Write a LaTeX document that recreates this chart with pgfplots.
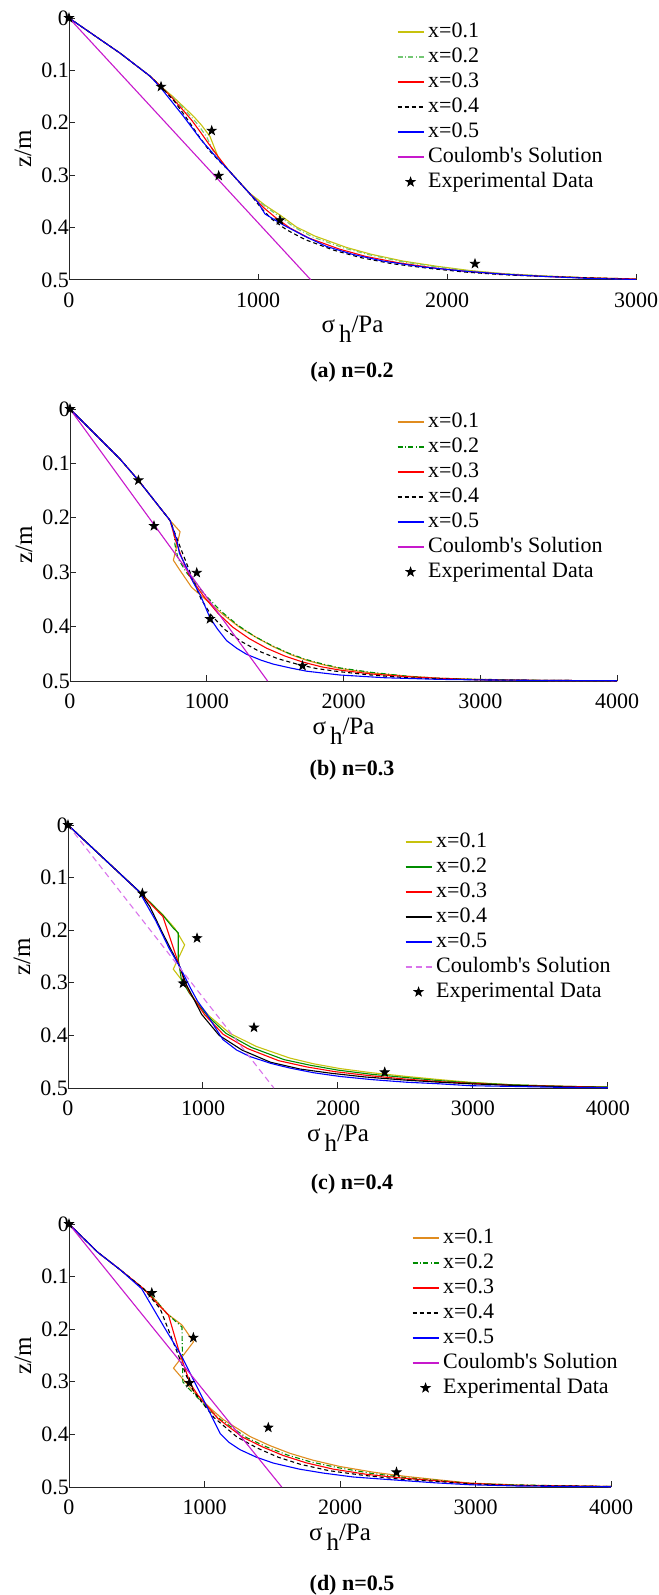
\documentclass[border=0pt]{standalone}
\usepackage{fontspec}
\setmainfont{Liberation Serif}
\usepackage{pgfplots}
\pgfplotsset{compat=1.18}

\pgfdeclareplotmark{pstar}{%
  \pgfpathmoveto{\pgfpointpolar{90}{\pgfplotmarksize}}%
  \pgfpathlineto{\pgfpointpolar{126}{0.4\pgfplotmarksize}}%
  \pgfpathlineto{\pgfpointpolar{162}{\pgfplotmarksize}}%
  \pgfpathlineto{\pgfpointpolar{198}{0.4\pgfplotmarksize}}%
  \pgfpathlineto{\pgfpointpolar{234}{\pgfplotmarksize}}%
  \pgfpathlineto{\pgfpointpolar{270}{0.4\pgfplotmarksize}}%
  \pgfpathlineto{\pgfpointpolar{306}{\pgfplotmarksize}}%
  \pgfpathlineto{\pgfpointpolar{342}{0.4\pgfplotmarksize}}%
  \pgfpathlineto{\pgfpointpolar{18}{\pgfplotmarksize}}%
  \pgfpathlineto{\pgfpointpolar{54}{0.4\pgfplotmarksize}}%
  \pgfpathclose
  \pgfusepathqfillstroke}

\definecolor{cyel}{rgb}{0.78,0.76,0.05}
\definecolor{clgreen}{rgb}{0.45,0.78,0.45}
\definecolor{cgreen}{rgb}{0.0,0.55,0.0}
\definecolor{corange}{rgb}{0.88,0.55,0.12}
\definecolor{cmag}{rgb}{0.78,0.1,0.8}
\definecolor{cviol}{rgb}{0.85,0.45,0.92}
\definecolor{caxis}{rgb}{0.15,0.15,0.15}

\tikzset{
  dashdot/.style={dash pattern=on 2.5bp off 1.2bp on 0.5bp off 1.2bp},
  dsh/.style={dash pattern=on 2bp off 1.5bp},
}

\pgfplotsset{
  panel/.style={
    scale only axis,
    axis x line*=bottom, axis y line*=left,
    axis line style={caxis, line width=0.5bp, -},
    y dir=reverse,
    ymin=0, ymax=0.5, ytick={0,0.1,0.2,0.3,0.4,0.5},
    yticklabels={0,0.1,0.2,0.3,0.4,0.5},
    xmin=0,
    tick align=inside,
    major tick length=3bp,
    tick style={caxis, line width=0.5bp},
    ticklabel style={font=\fontsize{11bp}{13bp}\selectfont, text=black},
    yticklabel style={xshift=3.5bp},
    xticklabel style={yshift=-3bp},
    label style={font=\fontsize{12.5bp}{14bp}\selectfont},
    ylabel={z/m},
    xlabel={σ\hspace{2bp}\raisebox{-5bp}{h}/Pa},
    ylabel style={at={(axis description cs:0,0.5)}, anchor=center, yshift=23bp},
    xlabel style={at={(axis description cs:0.5,0)}, anchor=base, yshift=-26.5bp},
    every axis plot/.append style={line width=0.55bp},
    legend cell align=left,
    legend style={draw=none, fill=none, inner sep=0pt, outer sep=0pt, row sep=0pt, column sep=2bp,
      font=\fontsize{11bp}{13bp}\selectfont,
      nodes={inner sep=0pt, text height=8.75bp, text depth=3.75bp}, anchor=north west},
    legend image code/.code={\draw[##1] (0bp,0bp) -- (13bp,0bp);},
  },
  expstyle/.style={only marks, mark=pstar, mark size=2.3bp, black, line width=0.4bp,
    legend image code/.code={\draw[mark repeat=2,mark phase=2,##1] plot coordinates {(0bp,0bp)(6.5bp,0bp)(13bp,0bp)};}},
}

\begin{document}
\begin{tikzpicture}
\path[use as bounding box] (0,0) rectangle (329.5bp,-797.5bp);

% ---------------- (a) n=0.2 ----------------
\begin{axis}[panel, at={(34.5bp,-9bp)}, anchor=north west, width=283.5bp, height=131bp,
  xmax=3000, xtick={0,1000,2000,3000}, xticklabels={0,1000,2000,3000},
  legend style={at={(axis description cs:0,1)}, xshift=164bp, yshift=-0.75bp}]
\addplot[cyel] coordinates {(0,0)(270,0.067)(429,0.111)(487,0.131)(550,0.150)(605,0.169)(660,0.188)(700,0.204)(746,0.226)(772,0.250)(790,0.266)(843,0.290)(958,0.335)(1040,0.358)(1116,0.376)(1204,0.399)(1300,0.416)(1469,0.438)(1600,0.451)(1768,0.464)(1950,0.474)(2122,0.482)(2300,0.488)(2500,0.492)(2750,0.496)(3000,0.498)};
\addlegendentry{x=0.1}
\addplot[clgreen, dashdot] coordinates {(0,0)(270,0.067)(429,0.111)(487,0.131)(545,0.150)(597,0.169)(650,0.190)(690,0.207)(730,0.228)(760,0.252)(785,0.267)(843,0.290)(958,0.336)(1040,0.360)(1110,0.378)(1195,0.400)(1290,0.418)(1455,0.439)(1590,0.452)(1760,0.465)(1945,0.475)(2120,0.483)(2300,0.488)(2500,0.492)(2750,0.496)(3000,0.498)};
\addlegendentry{x=0.2}
\addplot[red] coordinates {(0,0)(270,0.067)(429,0.111)(487,0.131)(540,0.150)(587,0.169)(649,0.195)(700,0.220)(737,0.239)(790,0.265)(843,0.290)(958,0.336)(1030,0.362)(1090,0.380)(1170,0.401)(1270,0.420)(1430,0.441)(1570,0.455)(1740,0.467)(1930,0.477)(2110,0.484)(2300,0.489)(2500,0.493)(2750,0.496)(3000,0.498)};
\addlegendentry{x=0.3}
\addplot[black, dsh] coordinates {(0,0)(270,0.067)(429,0.111)(487,0.131)(560,0.160)(620,0.190)(680,0.222)(740,0.252)(800,0.275)(843,0.290)(958,0.336)(1020,0.364)(1070,0.383)(1150,0.404)(1250,0.423)(1400,0.443)(1540,0.457)(1710,0.469)(1910,0.478)(2100,0.485)(2300,0.490)(2500,0.493)(2750,0.496)(3000,0.499)};
\addlegendentry{x=0.4}
\addplot[blue] coordinates {(0,0)(270,0.067)(429,0.111)(487,0.134)(600,0.185)(700,0.233)(790,0.270)(843,0.290)(958,0.336)(1000,0.352)(1037,0.374)(1134,0.395)(1250,0.417)(1363,0.436)(1500,0.451)(1662,0.464)(1870,0.475)(2086,0.483)(2300,0.489)(2500,0.493)(2750,0.497)(3000,0.499)};
\addlegendentry{x=0.5}
\addplot[cmag] coordinates {(0,0)(1280,0.5)};
\addlegendentry{Coulomb\textquotesingle s Solution}
\addplot[expstyle] coordinates {(0,0)(487,0.131)(755,0.215)(792,0.301)(1116,0.386)(2148,0.469)};
\addlegendentry{Experimental Data}
\end{axis}

% ---------------- (b) n=0.3 ----------------
\begin{axis}[panel, at={(35bp,-204.5bp)}, anchor=north west, width=273.5bp, height=136bp,
  xmax=4000, xtick={0,1000,2000,3000,4000}, xticklabels={0,1000,2000,3000,4000},
  legend style={at={(axis description cs:0,1)}, xshift=163.5bp, yshift=-0.25bp}]
\addplot[corange] coordinates {(0,0)(366,0.092)(500,0.131)(732,0.205)(805,0.2255)(756,0.278)(800,0.295)(890,0.328)(1000,0.352)(1120,0.378)(1244,0.402)(1370,0.421)(1487,0.437)(1620,0.452)(1731,0.462)(1850,0.470)(1975,0.477)(2200,0.485)(2463,0.491)(2700,0.495)(3000,0.497)(3500,0.499)(4000,0.4995)};
\addlegendentry{x=0.1}
\addplot[cgreen, dashdot] coordinates {(0,0)(366,0.092)(500,0.131)(732,0.205)(760,0.225)(768,0.250)(790,0.275)(850,0.300)(902,0.316)(1000,0.345)(1110,0.373)(1230,0.398)(1350,0.418)(1470,0.434)(1600,0.449)(1720,0.460)(1850,0.469)(1975,0.476)(2200,0.484)(2460,0.491)(2700,0.495)(3000,0.497)(3500,0.499)(4000,0.4995)};
\addlegendentry{x=0.2}
\addplot[red] coordinates {(0,0)(366,0.092)(500,0.131)(732,0.205)(770,0.240)(820,0.275)(870,0.305)(902,0.318)(980,0.345)(1080,0.375)(1190,0.401)(1310,0.422)(1440,0.440)(1570,0.454)(1700,0.465)(1840,0.474)(1975,0.480)(2200,0.487)(2460,0.492)(2700,0.495)(3000,0.498)(3500,0.499)(4000,0.4995)};
\addlegendentry{x=0.3}
\addplot[black, dsh] coordinates {(0,0)(366,0.092)(500,0.131)(732,0.205)(800,0.250)(870,0.295)(902,0.316)(960,0.350)(1030,0.378)(1130,0.405)(1250,0.427)(1380,0.445)(1520,0.459)(1660,0.469)(1800,0.477)(1975,0.483)(2200,0.489)(2460,0.494)(2700,0.496)(3000,0.498)(3500,0.499)(4000,0.4995)};
\addlegendentry{x=0.4}
\addplot[blue] coordinates {(0,0)(366,0.092)(500,0.131)(732,0.205)(780,0.240)(800,0.265)(850,0.290)(900,0.318)(951,0.341)(1000,0.370)(1024,0.384)(1080,0.405)(1146,0.426)(1220,0.440)(1292,0.451)(1400,0.462)(1487,0.469)(1610,0.476)(1731,0.482)(1975,0.489)(2300,0.494)(2700,0.497)(3000,0.498)(3500,0.499)(4000,0.4995)};
\addlegendentry{x=0.5}
\addplot[cmag] coordinates {(0,0)(1445,0.5)};
\addlegendentry{Coulomb\textquotesingle s Solution}
\addplot[expstyle] coordinates {(0,0)(500,0.131)(614,0.215)(927,0.301)(1024,0.386)(1700,0.472)};
\addlegendentry{Experimental Data}
\end{axis}

% ---------------- (c) n=0.4 ----------------
\begin{axis}[panel, at={(34bp,-412.5bp)}, anchor=north west, width=270bp, height=131.5bp,
  xmax=4000, xtick={0,1000,2000,3000,4000}, xticklabels={0,1000,2000,3000,4000},
  legend style={at={(axis description cs:0,1)}, xshift=168.5bp, yshift=-2.25bp}]
\addplot[cyel] coordinates {(0,0)(383,0.092)(540,0.130)(620,0.150)(704,0.171)(790,0.196)(864,0.228)(780,0.274)(840,0.294)(938,0.332)(1050,0.364)(1198,0.396)(1395,0.421)(1642,0.443)(1820,0.454)(2013,0.463)(2250,0.471)(2507,0.478)(2750,0.484)(2976,0.489)(3300,0.494)(3700,0.497)(4000,0.498)};
\addlegendentry{x=0.1}
\addplot[cgreen] coordinates {(0,0)(383,0.092)(540,0.130)(620,0.150)(704,0.172)(780,0.196)(817,0.205)(817,0.256)(840,0.294)(900,0.320)(938,0.333)(1030,0.362)(1170,0.396)(1360,0.423)(1600,0.446)(1800,0.457)(2000,0.466)(2250,0.474)(2500,0.480)(2750,0.486)(2976,0.490)(3300,0.494)(3700,0.497)(4000,0.498)};
\addlegendentry{x=0.2}
\addplot[red] coordinates {(0,0)(383,0.092)(540,0.130)(620,0.152)(703,0.174)(765,0.222)(827,0.269)(860,0.295)(900,0.318)(1010,0.360)(1150,0.398)(1330,0.425)(1560,0.448)(1770,0.460)(1980,0.469)(2250,0.477)(2500,0.483)(2750,0.488)(2976,0.491)(3300,0.495)(3700,0.497)(4000,0.499)};
\addlegendentry{x=0.3}
\addplot[black] coordinates {(0,0)(383,0.092)(531,0.127)(606,0.155)(700,0.205)(827,0.269)(880,0.305)(990,0.360)(1120,0.400)(1290,0.428)(1500,0.451)(1720,0.464)(1950,0.472)(2200,0.479)(2500,0.485)(2750,0.489)(2976,0.492)(3300,0.495)(3700,0.498)(4000,0.499)};
\addlegendentry{x=0.4}
\addplot[blue] coordinates {(0,0)(383,0.092)(528,0.127)(650,0.182)(750,0.235)(827,0.269)(901,0.307)(960,0.335)(1025,0.358)(1090,0.385)(1148,0.408)(1250,0.428)(1346,0.440)(1500,0.453)(1642,0.462)(1820,0.471)(2013,0.478)(2250,0.484)(2507,0.489)(2750,0.492)(2976,0.4956)(3300,0.497)(3700,0.499)(4000,0.4995)};
\addlegendentry{x=0.5}
\addplot[cviol, dash pattern=on 3bp off 2bp] coordinates {(0,0)(1525,0.5)};
\addlegendentry{Coulomb\textquotesingle s Solution}
\addplot[expstyle] coordinates {(0,0)(551,0.130)(956,0.215)(852,0.301)(1378,0.385)(2346,0.470)};
\addlegendentry{Experimental Data}
\end{axis}

% ---------------- (d) n=0.5 ----------------
\begin{axis}[panel, at={(34.5bp,-612bp)}, anchor=north west, width=271bp, height=131.5bp,
  xmax=4000, xtick={0,1000,2000,3000,4000}, xticklabels={0,1000,2000,3000,4000},
  legend style={at={(axis description cs:0,1)}, xshift=171.5bp, yshift=-0.75bp}]
\addplot[corange] coordinates {(0,0)(209,0.053)(378,0.087)(550,0.123)(640,0.145)(722,0.170)(834,0.192)(919,0.224)(771,0.274)(858,0.300)(955,0.328)(1050,0.352)(1140,0.372)(1336,0.404)(1480,0.421)(1631,0.436)(1800,0.449)(1999,0.461)(2250,0.472)(2491,0.480)(2750,0.487)(2955,0.4925)(3300,0.496)(3700,0.498)(4000,0.499)};
\addlegendentry{x=0.1}
\addplot[cgreen, dashdot] coordinates {(0,0)(209,0.053)(378,0.087)(550,0.123)(640,0.145)(722,0.170)(834,0.196)(837,0.250)(840,0.300)(880,0.312)(920,0.322)(1020,0.350)(1120,0.372)(1310,0.406)(1460,0.424)(1610,0.439)(1780,0.452)(1980,0.463)(2230,0.474)(2480,0.482)(2750,0.488)(2955,0.493)(3300,0.496)(3700,0.498)(4000,0.499)};
\addlegendentry{x=0.2}
\addplot[red] coordinates {(0,0)(209,0.053)(378,0.087)(550,0.123)(640,0.148)(734,0.173)(810,0.240)(894,0.303)(950,0.325)(1040,0.352)(1100,0.370)(1280,0.405)(1430,0.424)(1580,0.440)(1750,0.454)(1950,0.466)(2200,0.476)(2460,0.483)(2750,0.489)(2955,0.493)(3300,0.497)(3700,0.498)(4000,0.499)};
\addlegendentry{x=0.3}
\addplot[black, dsh] coordinates {(0,0)(209,0.053)(378,0.087)(550,0.123)(673,0.161)(770,0.225)(869,0.290)(920,0.318)(1000,0.345)(1070,0.368)(1240,0.405)(1390,0.426)(1540,0.443)(1710,0.457)(1920,0.469)(2180,0.478)(2440,0.485)(2750,0.490)(2955,0.494)(3300,0.497)(3700,0.498)(4000,0.499)};
\addlegendentry{x=0.4}
\addplot[blue] coordinates {(0,0)(209,0.053)(378,0.087)(536,0.123)(700,0.195)(833,0.252)(920,0.297)(1017,0.347)(1115,0.398)(1180,0.415)(1262,0.429)(1380,0.443)(1508,0.4545)(1700,0.466)(1876,0.4735)(2100,0.481)(2368,0.486)(2700,0.492)(2958,0.4957)(3300,0.498)(3700,0.499)(4000,0.4995)};
\addlegendentry{x=0.5}
\addplot[cmag] coordinates {(0,0)(1570,0.5)};
\addlegendentry{Coulomb\textquotesingle s Solution}
\addplot[expstyle] coordinates {(0,0)(611,0.131)(918,0.216)(889,0.302)(1471,0.387)(2417,0.472)};
\addlegendentry{Experimental Data}
\end{axis}

\begin{scope}[every node/.style={font=\bfseries\fontsize{11bp}{13bp}\selectfont, anchor=base}]
\node at (176bp,-188.5bp) {(a) n=0.2};
\node at (176bp,-387.5bp) {(b) n=0.3};
\node at (176bp,-594.5bp) {(c) n=0.4};
\node at (176bp,-795bp) {(d) n=0.5};
\end{scope}
\end{tikzpicture}
\end{document}
